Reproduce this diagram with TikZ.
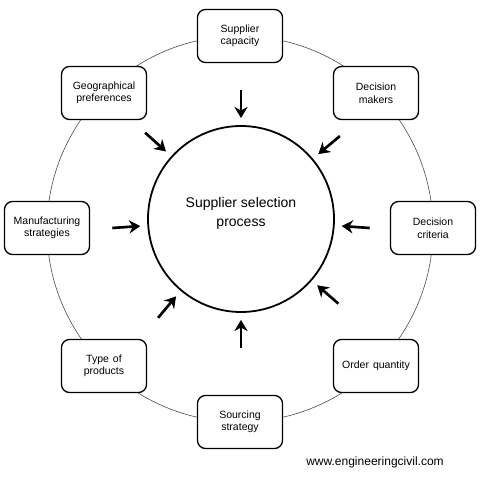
\documentclass[tikz,border=0pt]{standalone}
\usepackage{fontspec}
\setmainfont{Liberation Sans}
\usetikzlibrary{arrows.meta,calc}
\begin{document}
\begin{tikzpicture}[x=1pt,y=-1pt,>={Stealth[length=11pt,width=13pt,inset=3.5pt]}]
\tikzset{Factor/.style = {draw,line width=1.3pt,rounded corners=8pt,fill=white,
  minimum width=85pt,minimum height=53pt,align=center,
  font=\fontsize{10.5}{12.5}\selectfont}}
\tikzset{Push/.style = {->,line width=2.6pt,black}}
\useasboundingbox (0,0) rectangle (481,478);
\coordinate (o) at (240,229);
\draw[line width=0.6pt,black!70] (o) circle (193pt);
\node[circle,draw,line width=1.8pt,minimum size=186pt,
  font=\fontsize{14}{19}\selectfont,align=center] (ssp) at (241,219) {Supplier selection\\process\\[-5pt]};
\node[Factor] (sc) at (240,36) {Supplier\\capacity};
\node[Factor] (dm) at (376,93) {Decision\\makers};
\node[Factor] (dc) at (433,228) {Decision\\criteria};
\node[Factor] (oq) at (376,366) {Order\hspace{4pt}quantity};
\node[Factor] (ss) at (240,422) {Sourcing\\strategy};
\node[Factor] (tp) at (104,366) {Type\hspace{4pt}of\\products};
\node[Factor] (ms) at (47,228) {Manufacturing\\strategies};
\node[Factor] (gp) at (104,93) {Geographical\\preferences};
% arrows pointing in
\foreach \n/\ang in {1/90,2/40,3/-4,4/-41,5/-90,6/-130,7/184,8/138}{
  \coordinate (s\n) at ($(ssp.center)+(\ang:129pt)$);
  \coordinate (e\n) at ($(ssp.center)+(\ang:101pt)$);
  \draw[Push,black!20,shift={(1.5,1.5)}] (s\n) -- (e\n);
  \draw[Push] (s\n) -- (e\n);
}
\node[font=\fontsize{12}{14}\selectfont] (web) at (375,462) {www.engineeringcivil.com};
\end{tikzpicture}
\end{document}
